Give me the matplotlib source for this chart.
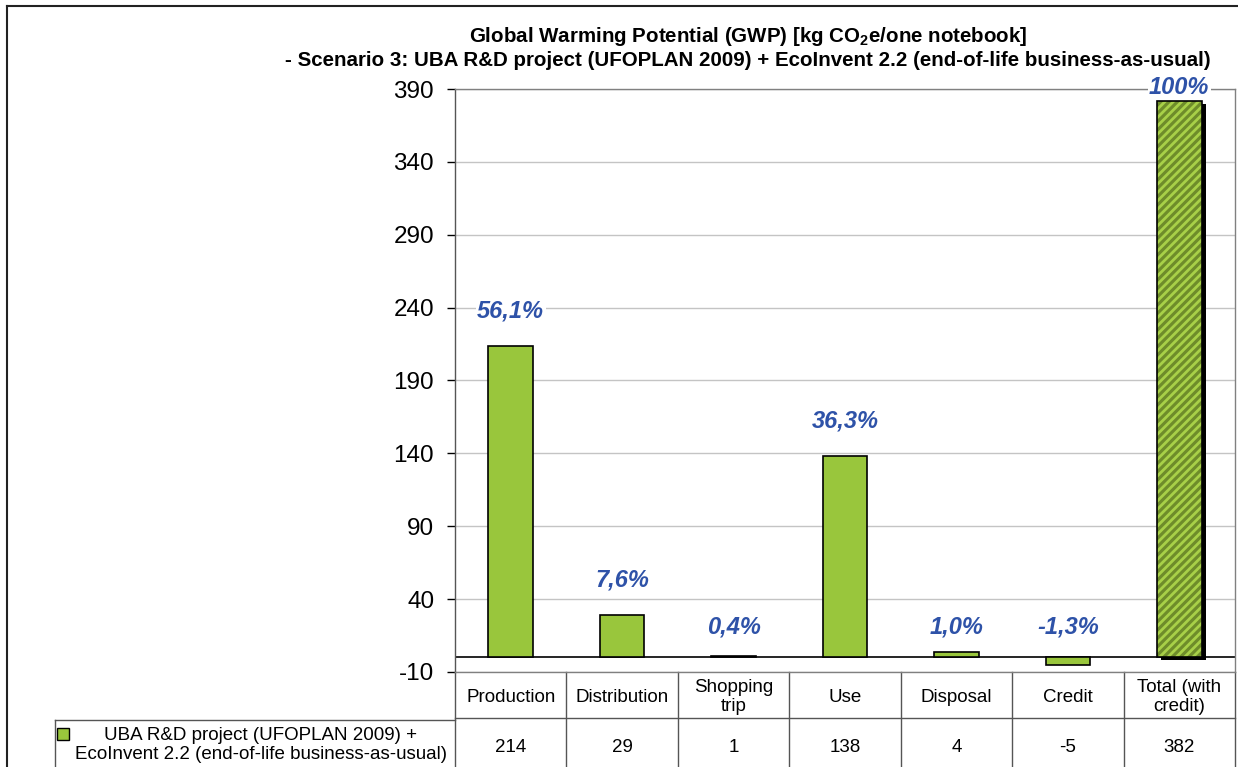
import matplotlib
matplotlib.use("Agg")
import matplotlib.pyplot as plt
from matplotlib.transforms import blended_transform_factory, ScaledTranslation
from matplotlib.lines import Line2D

plt.rcParams['font.family'] = ['Liberation Sans', 'DejaVu Sans']
plt.rcParams['mathtext.fontset'] = 'custom'
plt.rcParams['mathtext.rm'] = 'Liberation Sans'
plt.rcParams['mathtext.bf'] = 'Liberation Sans:bold'
plt.rcParams['hatch.linewidth'] = 2.0
plt.rcParams['axes.unicode_minus'] = False

# Daten
kategorien = ["Production", "Distribution", "Shopping\ntrip", "Use",
              "Disposal", "Credit", "Total (with\ncredit)"]
werte = [214, 29, 1, 138, 4, -5, 382]
prozente = ["56,1%", "7,6%", "0,4%", "36,3%", "1,0%", "-1,3%", "100%"]
tabelle = ["214", "29", "1", "138", "4", "-5", "382"]
serie = "UBA R&D project (UFOPLAN 2009) +\nEcoInvent 2.2 (end-of-life business-as-usual)"
yticks = [-10, 40, 90, 140, 190, 240, 290, 340, 390]

gruen = '#99C63C'
blau = '#2E52A8'

fig = plt.figure(figsize=(12.38, 7.67), dpi=100)
ax = fig.add_axes([455/1238, 95/767, 780/1238, 583/767])

x = list(range(len(werte)))
# normale Balken
for i in x[:-1]:
    ax.bar(i, werte[i], width=0.4, color=gruen, edgecolor='black', linewidth=1.2, zorder=3)

# Total-Balken: schraffiert mit Schatten
i = x[-1]
schatten = ax.bar(i, werte[i], width=0.4, color='black', linewidth=0, zorder=2.5)
for p in schatten:
    p.set_transform(ax.transData + ScaledTranslation(4/100, -3/100, fig.dpi_scale_trans))
ax.bar(i, werte[i], width=0.4, color='#6E8C2A', edgecolor='#A8D048', hatch='////',
       linewidth=0, zorder=3)
ax.bar(i, werte[i], width=0.4, fill=False, edgecolor='black', linewidth=1.2, zorder=4)

# Prozentbeschriftungen
for i, (v, p) in enumerate(zip(werte, prozente)):
    y = v + 24 if v > 10 else 21
    y = min(y, 391)
    ax.text(i, y, p, ha='center', va='center', color=blau, fontsize=17,
            fontweight='bold', fontstyle='italic', zorder=5,
            bbox=dict(facecolor='white', edgecolor='none', pad=1))

ax.set_xlim(-0.5, 6.5)
ax.set_ylim(-10, 390)
ax.set_yticks(yticks)
ax.tick_params(axis='y', labelsize=17.5, length=6, width=1, direction='out', pad=9)
ax.set_xticks([])
ax.yaxis.grid(True, color='#C4C4C4', linewidth=1.0, zorder=0)
ax.axhline(0, color='black', linewidth=1.2, zorder=2)
for s in ax.spines.values():
    s.set_color('#808080')
    s.set_linewidth(1.0)
ax.spines['left'].set_color('#555555')

# Datentabelle unterhalb
tr = blended_transform_factory(ax.transData, ax.transAxes)
r1 = -46/583
r2 = -100/583
for k in range(len(werte) + 1):
    ax.add_line(Line2D([k - 0.5, k - 0.5], [0, r2], transform=tr, color='#555555',
                       linewidth=1.0, clip_on=False))
ax.add_line(Line2D([-0.5, 6.5], [r1, r1], transform=tr, color='#555555',
                   linewidth=1.0, clip_on=False))
for i, (k, t) in enumerate(zip(kategorien, tabelle)):
    ax.text(i, -25/583, k, transform=tr, ha='center', va='center', fontsize=13.5,
            linespacing=1.2)
    ax.text(i, -75/583, t, transform=tr, ha='center', va='center', fontsize=13.5)

# Legendenzelle
fx = lambda px: px / 1238
fy = lambda py: 1 - py / 767
fig.add_artist(Line2D([fx(55), fx(455)], [fy(720), fy(720)], color='#555555', linewidth=1.0))
fig.add_artist(Line2D([fx(55), fx(55)], [fy(720), 0], color='#555555', linewidth=1.0))
fig.add_artist(Line2D([fx(63)], [fy(734)], marker='s', markersize=8, color=gruen,
                      markeredgecolor='black', markeredgewidth=1.0, linestyle='none'))
fig.text(fx(261), fy(745), serie, ha='center', va='center', fontsize=13.5, linespacing=1.1)

# Rahmen
fig.add_artist(Line2D([fx(7), 1], [fy(6), fy(6)], color='#222222', linewidth=1.5))
fig.add_artist(Line2D([fx(7), fx(7)], [fy(6), 0], color='#222222', linewidth=1.5))

# Titel
fig.text(fx(748), fy(37), r'Global Warming Potential (GWP) [kg CO$_\mathbf{2}$e/one notebook]',
         ha='center', va='center', fontsize=14.8, fontweight='bold')
fig.text(fx(748), fy(60), '- Scenario 3: UBA R&D project (UFOPLAN 2009) + EcoInvent 2.2 (end-of-life business-as-usual)',
         ha='center', va='center', fontsize=14.8, fontweight='bold')

fig.savefig('out.png', dpi=100)
